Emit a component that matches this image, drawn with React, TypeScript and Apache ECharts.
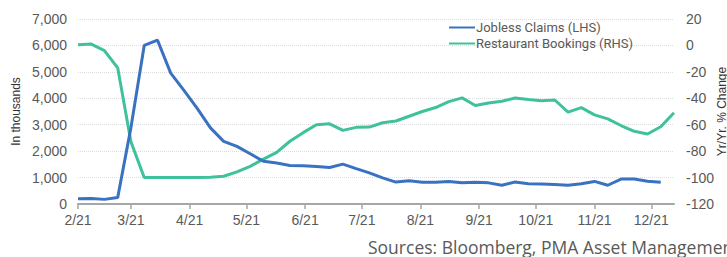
import React, { useEffect, useRef } from "react";
import * as echarts from "echarts";

const weeks = [
  "2021-02-01", "2021-02-08", "2021-02-15", "2021-02-22",
  "2021-03-01", "2021-03-08", "2021-03-15", "2021-03-22", "2021-03-29",
  "2021-04-05", "2021-04-12", "2021-04-19", "2021-04-26",
  "2021-05-03", "2021-05-10", "2021-05-17", "2021-05-24", "2021-05-31",
  "2021-06-07", "2021-06-14", "2021-06-21", "2021-06-28",
  "2021-07-05", "2021-07-12", "2021-07-19", "2021-07-26",
  "2021-08-02", "2021-08-09", "2021-08-16", "2021-08-23", "2021-08-30",
  "2021-09-06", "2021-09-13", "2021-09-20", "2021-09-27",
  "2021-10-04", "2021-10-11", "2021-10-18", "2021-10-25",
  "2021-11-01", "2021-11-08", "2021-11-15", "2021-11-22", "2021-11-29",
  "2021-12-06", "2021-12-13",
];

// Jobless claims, thousands (left axis)
const joblessClaims = [
  195, 207, 175, 250, 2900, 6000, 6200, 4950, 4300, 3620,
  2880, 2370, 2180, 1900, 1620, 1550, 1460, 1450, 1420, 1380,
  1510, 1340, 1180, 990, 830, 880, 820, 820, 855, 800,
  820, 800, 710, 830, 770, 755, 735, 710, 770, 855,
  710, 945, 945, 860, 820,
];

// Restaurant bookings, Yr/Yr % change (right axis)
const restaurantBookings = [
  0.5, 1, -4, -17, -73, -100, -100, -100, -100, -100,
  -99.8, -99, -95.7, -91.5, -86, -81, -72.5, -66, -60, -59.3,
  -64.3, -62, -61.8, -58.5, -57.2, -53.6, -50, -47, -42.5, -39.7,
  -45.5, -43.5, -42.2, -39.8, -41, -41.8, -41.3, -50.5, -47.1, -52.6,
  -55.6, -60.6, -65, -67, -61.5, -51,
];

const seriesNames = ["Jobless Claims (LHS)", "Restaurant Bookings (RHS)"];
const sourceText = "Sources: Bloomberg, PMA Asset Management";

const BLUE = "#3a72c2";
const TEAL = "#3fc29b";
const TEXT = "#595959";

export default function App() {
  const ref = useRef<HTMLDivElement>(null);

  useEffect(() => {
    if (!ref.current) return;
    document.body.style.margin = "0";
    const chart = echarts.init(ref.current, null, { renderer: "svg" });
    const font = "Liberation Sans";
    chart.setOption({
      animation: false,
      backgroundColor: "#ffffff",
      grid: {
        left: 78,
        right: 53,
        top: 19,
        bottom: 53,
        containLabel: false,
        outerBoundsMode: "none",
      },
      legend: {
        orient: "vertical",
        left: 449,
        top: 21,
        padding: 0,
        itemWidth: 26,
        itemHeight: 2,
        itemGap: 3,
        icon: "rect",
        textStyle: { color: TEXT, fontSize: 13, fontFamily: "Roboto", padding: [0, 0, 0, -4] },
        data: seriesNames,
      },
      xAxis: {
        type: "time",
        min: weeks[0],
        max: weeks[weeks.length - 1],
        minInterval: 28 * 86400000,
        maxInterval: 31 * 86400000,
        axisLine: { show: true, lineStyle: { color: "#a6a6a6", width: 2 } },
        axisTick: { show: true, length: 5, lineStyle: { color: "#a6a6a6", width: 1.5 } },
        splitLine: { show: false },
        axisLabel: {
          color: TEXT,
          fontSize: 14,
          fontFamily: font,
          margin: 9,
          showMaxLabel: false,
          formatter: (v: number) => {
            const d = new Date(v);
            return `${d.getMonth() + 1}/21`;
          },
        },
      },
      yAxis: [
        {
          type: "value",
          min: 0,
          max: 7000,
          interval: 1000,
          name: "In thousands",
          nameLocation: "middle",
          nameGap: 56,
          nameRotate: 90,
          nameMoveOverlap: false,
          nameTextStyle: { color: "#333", fontSize: 12, fontFamily: font },
          axisLine: { show: false },
          axisTick: { show: false },
          splitLine: { show: true, lineStyle: { color: "#dcdcdc", type: "dotted", width: 1 } },
          axisLabel: {
            color: TEXT,
            fontSize: 14,
            fontFamily: font,
            margin: 11,
            formatter: (v: number) => v.toLocaleString("en-US"),
          },
        },
        {
          type: "value",
          min: -120,
          max: 20,
          interval: 20,
          position: "right",
          name: "Yr/Yr. % Change",
          nameLocation: "middle",
          nameGap: 42,
          nameRotate: 90,
          nameMoveOverlap: false,
          nameTextStyle: { color: "#333", fontSize: 12, fontFamily: font },
          axisLine: { show: false },
          axisTick: { show: false },
          splitLine: { show: false },
          axisLabel: { color: TEXT, fontSize: 14, fontFamily: font, margin: 12 },
        },
      ],
      series: [
        {
          name: seriesNames[0],
          type: "line",
          yAxisIndex: 0,
          symbol: "none",
          lineStyle: { color: BLUE, width: 3 },
          itemStyle: { color: BLUE },
          data: joblessClaims.map((v, i) => [weeks[i], v]),
          z: 3,
        },
        {
          name: seriesNames[1],
          type: "line",
          yAxisIndex: 1,
          symbol: "none",
          lineStyle: { color: TEAL, width: 3 },
          itemStyle: { color: TEAL },
          data: restaurantBookings.map((v, i) => [weeks[i], v]),
          z: 2,
        },
      ],
      graphic: [
        {
          type: "text",
          left: 368,
          top: 238,
          style: {
            text: sourceText,
            fill: TEXT,
            fontSize: 17.5,
            fontFamily: "Open Sans",
          },
        },
      ],
    });
    return () => chart.dispose();
  }, []);

  return <div ref={ref} style={{ width: 727, height: 257 }} />;
}
